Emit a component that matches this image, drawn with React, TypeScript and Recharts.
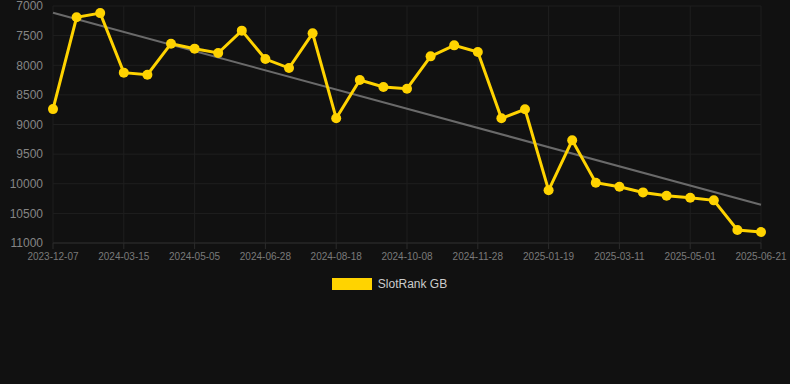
import { CartesianGrid, Legend, Line, LineChart, ReferenceLine, XAxis, YAxis } from 'recharts'

document.body.style.margin = '0'

const dates = [
  '2023-12-07', '2024-01-09', '2024-02-11', '2024-03-15', '2024-04-01', '2024-04-18',
  '2024-05-05', '2024-05-23', '2024-06-10', '2024-06-28', '2024-07-15', '2024-08-01',
  '2024-08-18', '2024-09-04', '2024-09-21', '2024-10-08', '2024-10-25', '2024-11-11',
  '2024-11-28', '2024-12-15', '2025-01-01', '2025-01-19', '2025-02-05', '2025-02-22',
  '2025-03-11', '2025-03-28', '2025-04-14', '2025-05-01', '2025-05-18', '2025-06-04',
  '2025-06-21'
]

const rankGB = [
  8740, 7190, 7120, 8125, 8160, 7636, 7720, 7793, 7416, 7895, 8047,
  7461, 8896, 8249, 8367, 8396, 7850, 7664, 7777, 8896, 8744, 10111,
  9267, 9983, 10050, 10146, 10202, 10236, 10280, 10781, 10815
]

const yTicks = [7000, 7500, 8000, 8500, 9000, 9500, 10000, 10500, 11000]

// trend line ends
const trendStart = 7113
const trendEnd = 10354

const data = dates.map((d, i) => ({ date: d, rank: rankGB[i] }))

const font = '"Liberation Sans", Arial, Helvetica, sans-serif'

function LegendBox() {
  return (
    <div
      style={{
        display: 'flex',
        justifyContent: 'center',
        alignItems: 'center',
        height: 20,
        marginLeft: 18,
        fontFamily: font,
        fontSize: 12,
        color: '#cccccc'
      }}
    >
      <span style={{ width: 40, height: 12, background: '#FFD300', marginRight: 6 }} />
      <span>SlotRank GB</span>
    </div>
  )
}

export default function App() {
  return (
    <div style={{ width: 790, height: 384, background: '#111111' }}>
      <LineChart
        width={790}
        height={384}
        data={data}
        margin={{ top: 6, right: 29, left: 0, bottom: 90 }}
      >
        <CartesianGrid stroke="#1f1f1f" strokeWidth={1} />
        <XAxis
          dataKey="date"
          interval={2}
          height={31}
          tick={{ fill: '#7a7a7a', fontSize: 10, fontFamily: font }}
          axisLine={{ stroke: '#2c2c2c' }}
          tickLine={{ stroke: '#2c2c2c' }}
          tickMargin={4}
        />
        <YAxis
          reversed
          domain={[7000, 11000]}
          ticks={yTicks}
          width={53}
          interval={0}
          tick={{ fill: '#858585', fontSize: 12, fontFamily: font }}
          axisLine={false}
          tickLine={false}
          tickMargin={4}
        />
        <ReferenceLine
          segment={[
            { x: dates[0], y: trendStart },
            { x: dates[dates.length - 1], y: trendEnd }
          ]}
          stroke="#6a6a6a"
          strokeWidth={2}
        />
        <Line
          type="linear"
          dataKey="rank"
          name="SlotRank GB"
          stroke="#FFD300"
          strokeWidth={3}
          dot={{ r: 5, fill: '#FFD300', stroke: '#FFD300', strokeWidth: 0 }}
          activeDot={false}
          isAnimationActive={false}
        />
        <Legend verticalAlign="bottom" content={() => <LegendBox />} />
      </LineChart>
    </div>
  )
}
